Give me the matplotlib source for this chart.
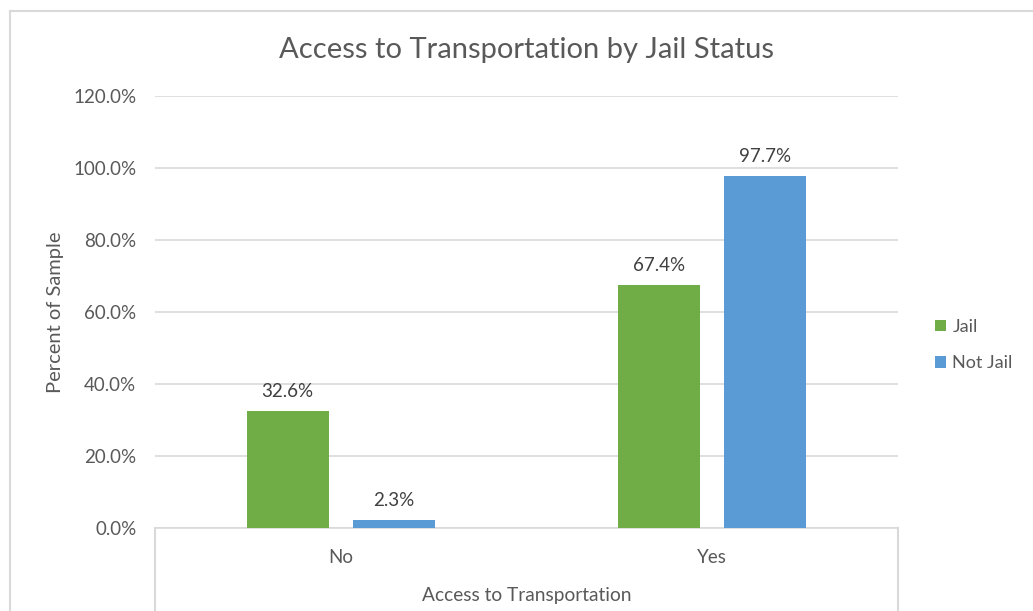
import matplotlib
matplotlib.use("Agg")
import matplotlib.pyplot as plt
import numpy as np
from matplotlib.lines import Line2D

# Data
categories = ["No", "Yes"]
series_names = ["Jail", "Not Jail"]
jail = [32.6, 67.4]
not_jail = [2.3, 97.7]
yticks = [0, 20, 40, 60, 80, 100, 120]

GREEN = "#70AD47"
BLUE = "#5B9BD5"
GRID = "#D9D9D9"
TEXT = "#595959"
FONT = "Lato"

plt.rcParams["font.family"] = [FONT, "DejaVu Sans"]

W, H = 1033, 611
fig = plt.figure(figsize=(W / 100, H / 100), dpi=100)
fig.patch.set_facecolor("white")

# Chart frame (top and left edges)
fig.add_artist(Line2D([10 / W, 1.0], [1 - 11 / H, 1 - 11 / H], color=GRID, lw=1.5))
fig.add_artist(Line2D([10 / W, 10 / W], [0, 1 - 11 / H], color=GRID, lw=1.5))

left, right, top, bottom = 155, 898, 96, 528
ax = fig.add_axes([left / W, 1 - bottom / H, (right - left) / W, (bottom - top) / H])

x = np.arange(len(categories))
width = 0.221
offset = 0.143
b1 = ax.bar(x - offset, jail, width, color=GREEN, label=series_names[0], zorder=3)
b2 = ax.bar(x + offset, not_jail, width, color=BLUE, label=series_names[1], zorder=3)

for bars, vals in ((b1, jail), (b2, not_jail)):
    for rect, v in zip(bars, vals):
        ax.annotate(f"{v:.1f}%", (rect.get_x() + rect.get_width() / 2, v),
                    xytext=(0, 8), textcoords="offset points",
                    ha="center", va="bottom", fontsize=13.5, color="#404040")

ax.set_xlim(-0.5, 1.5)
ax.set_ylim(0, 120)
ax.set_yticks(yticks)
ax.set_yticklabels([f"{t:.1f}%" for t in yticks], fontsize=13.5, color=TEXT)
ax.tick_params(axis="y", length=0, pad=13.5)
ax.set_xticks(x)
ax.set_xticklabels(categories, fontsize=13.5, color=TEXT)
ax.tick_params(axis="x", length=0, pad=15)
ax.yaxis.grid(True, color=GRID, lw=1.2, zorder=0)
ax.set_axisbelow(True)
for s in ("top", "right", "left"):
    ax.spines[s].set_visible(False)
ax.spines["bottom"].set_color(GRID)
ax.spines["bottom"].set_linewidth(1.2)

# Long category boundary marks below the axis
for xb in (-0.5, 1.5):
    ax.plot([xb, xb], [0, -25], color=GRID, lw=1.5, clip_on=False, zorder=1)

ax.set_ylabel("Percent of Sample", fontsize=14.5, color=TEXT)
ax.yaxis.set_label_coords((64 - left) / (right - left), 0.5)
fig.text((left + right) / 2 / W, 1 - 595 / H, "Access to Transportation",
         ha="center", va="center", fontsize=13.8, color=TEXT)
fig.text((left + right) / 2 / W, 1 - 50 / H, "Access to Transportation by Jail Status",
         ha="center", va="center", fontsize=21, color=TEXT)

ax.legend(loc="center left", bbox_to_anchor=(919 / W, 1 - 345 / H),
          bbox_transform=fig.transFigure, frameon=False, fontsize=13,
          labelcolor=TEXT, handlelength=0.6, handleheight=0.6, handletextpad=0.35,
          labelspacing=1.15)

fig.savefig("out.png", dpi=100, facecolor="white")
